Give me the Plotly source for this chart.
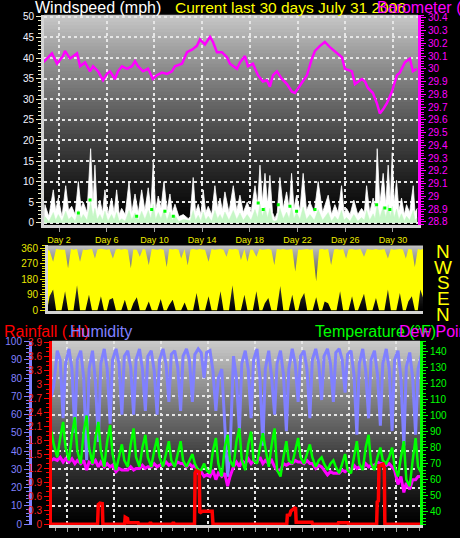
import plotly.graph_objects as go

FONT = "Liberation Sans, Arial, sans-serif"
W, H = 460, 538

# ---------------- data ----------------
DAY_TICKS = [2, 6, 10, 14, 18, 22, 26, 30]
BARO_TICKS = [28.8, 28.9, 29.0, 29.1, 29.2, 29.3, 29.4, 29.5, 29.6, 29.7,
              29.8, 29.9, 30.0, 30.1, 30.2, 30.3, 30.4]
RAIN_TICKS = [0, 0.3, 0.6, 0.9, 1.2, 1.5, 1.8, 2.1, 2.4, 2.7, 3.0, 3.3, 3.6, 3.9]
TEMP_TICKS = [40, 50, 60, 70, 80, 90, 100, 110, 120, 130, 140]
DIR_TICKS = [0, 90, 180, 270, 360]

# barometer (inHg) against day
BARO_DAY = [0.66, 1.41, 1.83, 2.33, 2.50, 2.92, 3.51, 3.76, 4.18, 4.60, 4.85,
            5.27, 5.69, 6.02, 6.27, 6.69, 6.94, 7.28, 7.70, 8.12, 8.37, 8.62,
            9.04, 9.46, 9.88, 10.21, 10.63, 11.05, 11.47, 11.72, 12.31, 12.73,
            13.15, 13.56, 13.82, 14.24, 14.66, 14.91, 15.24, 15.66, 16.08,
            16.33, 16.92, 17.17, 17.59, 17.84, 18.26, 18.68, 19.10, 19.43,
            19.68, 19.94, 20.27, 20.69, 21.11, 21.53, 21.78, 22.20, 22.79,
            23.20, 23.46, 23.88, 24.29, 24.71, 25.30, 25.72, 25.97, 26.56,
            26.81, 27.40, 27.65, 27.90, 28.32, 28.65, 28.90, 29.16, 29.49,
            29.91, 30.33, 30.58, 31.00, 31.42, 31.67, 32.01]
BARO_IN = [30.05, 30.12, 30.04, 30.10, 30.14, 30.08, 30.12, 30.02, 30.05,
           29.98, 30.02, 29.98, 29.91, 29.96, 29.98, 29.92, 29.98, 30.02,
           30.00, 30.02, 30.06, 30.02, 29.98, 30.00, 29.92, 29.95, 29.97,
           29.96, 29.98, 30.02, 30.04, 30.13, 30.15, 30.18, 30.23, 30.19,
           30.25, 30.21, 30.13, 30.13, 30.09, 30.04, 30.00, 30.05, 30.10,
           30.02, 30.04, 29.95, 29.90, 29.91, 29.86, 29.95, 29.98, 29.92,
           29.88, 29.82, 29.81, 29.87, 29.95, 30.08, 30.14, 30.18, 30.21,
           30.17, 30.12, 30.09, 30.00, 29.98, 29.88, 29.92, 29.90, 29.85,
           29.81, 29.73, 29.65, 29.68, 29.73, 29.82, 29.95, 29.97, 30.05,
           30.08, 29.98, 30.00]

# wind gust / average speed (mph) against day
WIND_DAY = [0.75, 0.82, 1.15, 1.52, 1.72, 1.94, 2.25, 2.56, 2.80, 3.06, 3.35,
            3.62, 3.85, 4.03, 4.35, 4.65, 4.85, 5.01, 5.20, 5.43, 5.65, 5.85,
            6.10, 6.41, 6.62, 6.83, 7.05, 7.25, 7.55, 7.87, 8.10, 8.37, 8.65,
            8.93, 9.20, 9.48, 9.70, 9.90, 10.10, 10.32, 10.55, 10.80, 11.05,
            11.30, 11.50, 11.72, 12.05, 12.42, 12.84, 13.00, 13.25, 13.45,
            13.67, 13.90, 14.09, 14.30, 14.51, 14.80, 15.07, 15.30, 15.50,
            15.70, 15.91, 16.25, 16.61, 16.90, 17.17, 17.45, 17.78, 18.10,
            18.43, 18.65, 18.85, 19.05, 19.27, 19.48, 19.68, 19.90, 20.10,
            20.30, 20.52, 20.80, 21.08, 21.30, 21.50, 21.70, 21.92, 22.20,
            22.47, 22.75, 23.04, 23.40, 23.73, 24.10, 24.57, 24.85, 25.13,
            25.40, 25.69, 25.90, 26.11, 26.40, 26.72, 27.05, 27.37, 27.60,
            27.79, 28.05, 28.34, 28.50, 28.68, 28.90, 29.18, 29.40, 29.60,
            29.78, 29.94, 30.10, 30.30, 30.50, 30.72, 30.95, 31.14, 31.40,
            31.70, 31.85, 32.03]
WIND_GUST = [2, 4.4, 1.5, 8, 3, 6, 1.5, 9, 3, 4, 2, 10, 3.5, 5, 2.5, 18, 4.5,
             14, 3, 5.5, 2.5, 8, 2, 6, 2.5, 8, 2, 3.5, 2, 10, 2.5, 7, 2.5, 8,
             3, 8.5, 3.5, 14.7, 3, 6.5, 3.5, 10, 3, 7, 2.5, 4.5, 1.5, 2, 1,
             1.5, 11, 2.5, 4.5, 2, 8, 2.5, 4, 2, 9, 3.5, 6, 3, 7.5, 2.5, 9, 3,
             6.7, 2.5, 5, 2.5, 9, 4.5, 14, 5, 12, 4.5, 11.5, 2.5, 1, 2.5, 11,
             3.5, 7.5, 3.5, 12, 3.5, 6.7, 3, 12, 3, 5, 2.5, 10, 2.5, 6.7, 2,
             4.4, 2.5, 9, 2.5, 3.5, 2, 5.5, 2, 3.5, 2.5, 9, 2.5, 6, 3.5, 18,
             4.5, 12, 4.5, 14, 5, 17, 4.5, 10.3, 3, 6, 2, 4.4, 2.5, 9, 2.5,
             3.5]
WIND_AVG = [0.3, 1.5, 0.3, 2.5, 0.6, 2, 0.3, 2.8, 0.8, 1.5, 0.4, 3, 1, 2, 0.6,
            5, 1.5, 3.5, 0.8, 2, 0.6, 2.8, 0.4, 2, 0.6, 2.5, 0.4, 1, 0.4, 3,
            0.8, 2.4, 0.6, 2.8, 0.8, 3, 1, 4.5, 0.8, 2.5, 1, 3.2, 0.6, 2.6,
            0.6, 1.8, 0.3, 0.8, 0.6, 0.5, 3, 0.6, 1.8, 0.4, 2.6, 0.6, 1.6,
            0.4, 3, 1, 2, 0.8, 2.6, 0.6, 3, 0.8, 2.4, 0.6, 2, 0.6, 3.2, 1.2,
            4.5, 1.6, 3.8, 1.2, 3.5, 0.6, 0.4, 0.6, 3.5, 1, 2.6, 1, 4, 1,
            2.5, 0.8, 3.8, 0.8, 2, 0.6, 3.2, 0.6, 2.5, 0.4, 1.6, 0.6, 3, 0.6,
            1.3, 0.4, 2, 0.4, 1.3, 0.6, 3, 0.6, 2.2, 1, 4.6, 1.2, 4, 1.3,
            4.4, 1.5, 4, 1.2, 3.3, 0.8, 2.2, 0.4, 1.6, 0.6, 3, 0.6, 1.2]
WIND_PEAK_DAY = [3.62, 4.60, 8.51, 9.77, 10.88, 11.58, 18.70, 19.12, 20.38,
                 21.36, 21.92, 23.46, 28.63, 29.32, 29.74]
WIND_PEAK_MPH = [2.4, 5.5, 1.6, 3.2, 2.8, 1.6, 4.8, 3.2, 4.4, 4.0, 2.8, 3.2,
                 4.4, 3.6, 3.2]

# four readings a day (04h, 10h, 16h, 21h), days 0..32
SAMPLE_HOURS = [4, 10, 16, 21]
HUMIDITY = [
    [90, 85, 70, 76], [95, 90, 58, 88], [96, 85, 50, 90], [95, 80, 35, 85],
    [95, 78, 45, 88], [96, 85, 55, 90], [96, 88, 60, 92], [95, 86, 60, 90],
    [96, 85, 62, 92], [95, 84, 60, 90], [96, 88, 67, 93], [95, 86, 62, 92],
    [96, 90, 67, 93], [96, 94, 80, 94], [95, 84, 62, 80], [85, 55, 26, 40],
    [92, 80, 51, 88], [95, 85, 58, 90], [96, 80, 43, 85], [95, 80, 60, 88],
    [95, 82, 51, 85], [96, 88, 67, 92], [95, 85, 58, 90], [96, 88, 68, 92],
    [96, 88, 67, 94], [96, 90, 72, 93], [95, 82, 49, 88], [96, 84, 58, 90],
    [95, 82, 54, 88], [96, 85, 51, 90], [95, 80, 43, 86], [94, 80, 49, 85],
    [93, 85, 60, 85],
]
TEMPERATURE = [
    [74, 82, 90, 82], [74, 86, 96, 80], [72, 88, 99, 78], [70, 90, 100, 80],
    [70, 86, 96, 78], [68, 84, 94, 76], [66, 74, 82, 72], [68, 82, 92, 74],
    [68, 80, 88, 74], [68, 78, 86, 74], [68, 76, 84, 72], [68, 76, 84, 72],
    [68, 72, 76, 70], [66, 66, 70, 66], [64, 78, 86, 70], [62, 80, 88, 72],
    [68, 84, 92, 72], [66, 82, 90, 72], [70, 80, 89, 80], [68, 82, 92, 66],
    [62, 74, 84, 72], [70, 78, 86, 74], [70, 76, 82, 74], [68, 72, 74, 70],
    [66, 70, 72, 68], [64, 70, 76, 66], [64, 74, 84, 70], [66, 80, 88, 70],
    [66, 74, 80, 72], [70, 74, 80, 68], [62, 74, 84, 60], [56, 72, 86, 68],
    [64, 74, 82, 72],
]
DEW_POINT = [
    [72, 73, 72, 73], [72, 74, 71, 73], [71, 73, 70, 72], [70, 72, 66, 71],
    [70, 72, 68, 71], [68, 70, 68, 69], [65, 67, 66, 66], [66, 68, 66, 67],
    [67, 69, 67, 68], [68, 70, 68, 69], [69, 71, 69, 70], [69, 71, 70, 70],
    [68, 70, 68, 69], [64, 65, 62, 63], [62, 66, 60, 64], [62, 64, 56, 62],
    [68, 71, 68, 72], [70, 73, 70, 72], [71, 74, 70, 72], [70, 72, 68, 66],
    [66, 70, 69, 70], [70, 72, 71, 71], [70, 72, 70, 70], [67, 69, 68, 66],
    [63, 65, 64, 64], [64, 66, 65, 66], [66, 69, 67, 68], [67, 70, 68, 69],
    [69, 71, 70, 70], [69, 70, 68, 66], [57, 62, 52, 58], [54, 60, 60, 62],
    [62, 64, 62, 63],
]
DIR_LOW = [
    [0, 0, 0, 80], [120, 0, 0, 0], [110, 0, 0, 0], [145, 0, 0, 0],
    [90, 0, 0, 0], [80, 0, 0, 60], [70, 0, 0, 0], [60, 0, 0, 40],
    [75, 0, 0, 0], [50, 0, 0, 0], [65, 0, 0, 30], [60, 0, 0, 0],
    [45, 0, 0, 0], [100, 0, 0, 0], [80, 0, 0, 0], [110, 0, 0, 0],
    [145, 0, 0, 0], [90, 0, 0, 0], [110, 0, 0, 40], [70, 0, 0, 0],
    [140, 0, 0, 0], [90, 0, 0, 60], [100, 0, 0, 0], [75, 0, 0, 50],
    [40, 0, 0, 0], [110, 0, 0, 0], [80, 0, 0, 40], [95, 0, 0, 0],
    [70, 0, 0, 0], [120, 0, 0, 0], [100, 0, 0, 50], [80, 0, 0, 120],
    [60, 0, 0, 0],
]
DIR_HIGH = [
    [350, 355, 350, 345], [280, 355, 352, 350], [350, 243, 355, 350],
    [355, 280, 352, 348], [350, 355, 300, 352], [356, 352, 350, 355],
    [300, 352, 355, 350], [355, 350, 243, 352], [350, 310, 355, 352],
    [262, 355, 352, 350], [355, 350, 250, 355], [352, 355, 350, 300],
    [355, 260, 352, 355], [350, 355, 352, 350], [280, 355, 350, 352],
    [355, 350, 310, 355], [352, 355, 350, 290], [355, 280, 352, 350],
    [310, 355, 350, 352], [355, 350, 262, 355], [352, 355, 350, 352],
    [355, 224, 352, 350], [352, 355, 350, 355], [167, 352, 355, 350],
    [355, 262, 352, 355], [350, 355, 300, 352], [355, 350, 352, 355],
    [310, 355, 352, 350], [355, 350, 352, 355], [300, 355, 350, 352],
    [355, 352, 300, 355], [352, 250, 355, 350], [355, 350, 352, 355],
]

# rainfall (in) against day
RAIN_DAY = [0.5, 4.60, 4.66, 4.80, 5.00, 5.05, 6.90, 6.95, 7.15, 7.20, 8.05,
            8.10, 9.00, 9.05, 9.15, 9.20, 10.95, 11.00, 11.10, 11.15, 12.85,
            12.90, 13.00, 13.25, 13.30, 13.45, 13.55, 14.35, 14.42, 20.70,
            20.75, 20.95, 21.05, 21.45, 21.50, 22.85, 22.90, 25.05, 25.10,
            25.90, 25.95, 28.35, 28.40, 28.50, 28.55, 28.90, 29.00, 29.05,
            32.5]
RAIN_IN = [0, 0, 0.42, 0.45, 0.44, 0, 0, 0.15, 0.12, 0.03, 0.03, 0, 0, 0.02,
           0.02, 0, 0, 0.02, 0.02, 0, 0, 1.10, 1.15, 1.12, 0.24, 0.26, 0.28,
           0.28, 0, 0, 0.19, 0.20, 0.28, 0.36, 0.04, 0.04, 0, 0, 0.03, 0.03,
           0, 0, 0.48, 0.50, 1.25, 1.29, 1.20, 0, 0]


def flat(rows):
    return [v for row in rows for v in row]


SAMPLE_DAY = [d + h / 24 for d in range(len(HUMIDITY)) for h in SAMPLE_HOURS]


def dom_x(left, right):
    return [left / W, right / W]


def dom_y(top, bottom):
    return [1 - bottom / H, 1 - top / H]


fig = go.Figure()

# ---------------- top panel: wind + barometer ----------------
fig.add_trace(go.Scatter(x=WIND_DAY, y=WIND_GUST, mode="lines", fill="tozeroy",
                         fillcolor="white", line=dict(color="white", width=0.8),
                         xaxis="x", yaxis="y"))
fig.add_trace(go.Scatter(x=WIND_DAY, y=WIND_AVG, mode="lines", fill="tozeroy",
                         fillcolor="#c6f7c6", line=dict(color="#c6f7c6", width=0.5),
                         xaxis="x", yaxis="y"))
fig.add_trace(go.Scatter(x=WIND_PEAK_DAY, y=WIND_PEAK_MPH, mode="markers",
                         marker=dict(color="#00ff00", size=3, symbol="square"),
                         xaxis="x", yaxis="y"))
fig.add_trace(go.Scatter(x=BARO_DAY, y=BARO_IN, mode="lines",
                         line=dict(color="#ff00ff", width=2.5),
                         xaxis="x", yaxis="y2"))

# ---------------- middle panel: wind direction ----------------
fig.add_trace(go.Scatter(x=SAMPLE_DAY, y=flat(DIR_LOW), mode="lines",
                         line=dict(width=0, color="rgba(0,0,0,0)"),
                         xaxis="x2", yaxis="y3"))
fig.add_trace(go.Scatter(x=SAMPLE_DAY, y=flat(DIR_HIGH), mode="lines",
                         fill="tonexty", fillcolor="#ffff00",
                         line=dict(width=0, color="#ffff00"),
                         xaxis="x2", yaxis="y3"))

# ---------------- bottom panel: humidity, temp, dew, rain ----------------
fig.add_trace(go.Scatter(x=SAMPLE_DAY, y=flat(HUMIDITY), mode="lines",
                         line=dict(color="#8080ff", width=3),
                         xaxis="x3", yaxis="y4"))
fig.add_trace(go.Scatter(x=SAMPLE_DAY, y=flat(DEW_POINT), mode="lines",
                         line=dict(color="#ff00ff", width=3),
                         xaxis="x3", yaxis="y5"))
fig.add_trace(go.Scatter(x=SAMPLE_DAY, y=flat(TEMPERATURE), mode="lines",
                         line=dict(color="#00ff00", width=2.5),
                         xaxis="x3", yaxis="y5"))
fig.add_trace(go.Scatter(x=RAIN_DAY, y=RAIN_IN, mode="lines",
                         line=dict(color="#ff0000", width=3.5),
                         xaxis="x3", yaxis="y6"))

# gradient backgrounds (grey at the top fading to black)
shapes = []
for xr, yr, top in [("x", "y", 200), ("x2", "y3", 195), ("x3", "y4", 205)]:
    n = 60
    for i in range(n):
        f = (i + 0.5) / n
        g = int(top * (1 - f) ** 1.2)
        shapes.append(dict(type="rect", xref=xr + " domain", yref=yr + " domain",
                           x0=0, x1=1, y0=max(0, 1 - (i + 1.8) / n),
                           y1=1 - i / n,
                           fillcolor=f"rgb({g},{g},{g})", line=dict(width=0),
                           layer="below"))

grid = dict(showgrid=True, gridcolor="#e6e6e6", griddash="dot", gridwidth=1.5)
edge = dict(showline=True, linecolor="#d4d4d4", linewidth=3, zeroline=False)
tick_font = dict(family=FONT, size=10)

layout = dict(
    width=W, height=H, autosize=False,
    margin=dict(l=0, r=0, t=0, b=0),
    paper_bgcolor="black", plot_bgcolor="black",
    showlegend=False, hovermode=False,
    shapes=shapes,
    xaxis=dict(domain=dom_x(44, 418), range=[0.74, 32.1], anchor="y",
               tickvals=DAY_TICKS, ticktext=[f"Day {d}" for d in DAY_TICKS],
               tickfont=dict(family=FONT, size=9, color="#eeee00"),
               ticks="outside", ticklen=4, tickcolor="#a0a0a0", **grid, **edge),
    yaxis=dict(domain=dom_y(10, 224), range=[-0.5, 50.5], anchor="x",
               tick0=0, dtick=5, tickfont=dict(tick_font, color="#f4f4ff"),
               ticks="outside", ticklen=5, tickcolor="#f0f0c8",
               minor=dict(dtick=1, ticks="outside", ticklen=3,
                          tickcolor="#f0f0c8", showgrid=False),
               **grid, **edge),
    yaxis2=dict(overlaying="y", side="right", anchor="x",
                range=[28.777, 30.423], tickvals=BARO_TICKS,
                ticktext=[f"{v:g}" for v in BARO_TICKS],
                tickfont=dict(tick_font, color="#ff00ff"),
                ticks="outside", ticklen=5, tickcolor="#ff00ff",
                minor=dict(dtick=0.02, ticks="outside", ticklen=3,
                           tickcolor="#ff00ff", showgrid=False),
                showgrid=False, showline=True, linecolor="#ff00ff",
                linewidth=3, zeroline=False),
    xaxis2=dict(domain=dom_x(48, 423), range=[0.74, 32.1], anchor="y3",
                showticklabels=False, showgrid=False, ticks="", **edge),
    yaxis3=dict(domain=dom_y(245, 312), range=[-6, 375], anchor="x2",
                tickvals=DIR_TICKS, tickfont=dict(tick_font, color="#e8e800"),
                ticks="outside", ticklen=5, tickcolor="#e8e800",
                minor=dict(dtick=15, ticks="outside", ticklen=3,
                           tickcolor="#e8e800", showgrid=False),
                showgrid=False, **edge),
    xaxis3=dict(domain=dom_x(52, 420), range=[0.72, 32.04], anchor="y4",
                tickvals=DAY_TICKS, showticklabels=False,
                ticks="outside", ticklen=4, tickcolor="#a0a0a0",
                minor=dict(dtick=1, ticks="outside", ticklen=3,
                           tickcolor="#a0a0a0", showgrid=False),
                **grid, **edge),
    yaxis4=dict(domain=dom_y(342, 530), range=[-0.5, 100.5], anchor="free",
                position=30 / W, side="left", tick0=0, dtick=10,
                tickfont=dict(tick_font, color="#8080ff"),
                ticks="outside", ticklen=5, tickcolor="#8080ff",
                minor=dict(dtick=2, ticks="outside", ticklen=3,
                           tickcolor="#8080ff", showgrid=False),
                **grid, showline=True, linecolor="#8080ff", linewidth=3,
                zeroline=False),
    yaxis5=dict(overlaying="y4", side="right", anchor="x3",
                range=[31.6, 146.75], tickvals=TEMP_TICKS,
                tickfont=dict(tick_font, color="#00ff00"),
                ticks="outside", ticklen=5, tickcolor="#00ff00",
                minor=dict(dtick=2, ticks="outside", ticklen=3,
                           tickcolor="#00ff00", showgrid=False),
                showgrid=False, showline=True, linecolor="#00ff00",
                linewidth=3, zeroline=False),
    yaxis6=dict(overlaying="y4", side="left", anchor="x3",
                range=[-0.021, 3.942], tickvals=RAIN_TICKS,
                ticktext=[f"{v:g}" for v in RAIN_TICKS],
                tickfont=dict(tick_font, color="#ff2020"),
                ticks="outside", ticklen=5, tickcolor="#ff0000",
                minor=dict(dtick=0.1, ticks="outside", ticklen=3,
                           tickcolor="#ff0000", showgrid=False),
                showgrid=False, showline=True, linecolor="#ff0000",
                linewidth=3, zeroline=False),
)
fig.update_layout(**layout)


def label(text, x_px, y_px, color, size=16, anchor="left"):
    fig.add_annotation(text=text, xref="paper", yref="paper", x=x_px / W,
                       y=1 - y_px / H, xanchor=anchor, yanchor="middle",
                       showarrow=False,
                       font=dict(family=FONT, size=size, color=color))


label("Windspeed (mph)", 33, 3, "white")
label("Current last 30 days July 31 2006", 173, 3, "#ffff00", size=15.5)
label("Barometer (in)", 375, 3, "#ff00ff")
label("Rainfall (.in)", 2, 333, "#ff0000")
label("Humidity", 68, 333, "#8080ff")
label("Temperature (°F)", 313, 333, "#00ff00")
label("Dew Point", 397, 333, "#ff00ff")
for i, letter in enumerate("NWSEN"):
    label(letter, 443, 251 + i * 16, "#ffff00", size=19, anchor="center")

# page body has a default margin; drop it so the figure fills the window
fig.write_html("out.html", config={"displayModeBar": False},
               post_script="document.body.style.margin='0px';")
